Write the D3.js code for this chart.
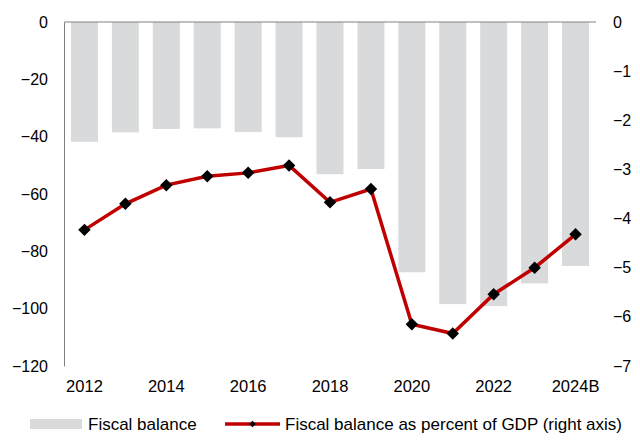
<!DOCTYPE html>
<html><head><meta charset="utf-8">
<script src="https://cdn.jsdelivr.net/npm/d3@7"></script>
<style>body{margin:0;background:#fff}svg{display:block}text{font-family:"Liberation Sans",Arial,sans-serif;fill:#000}</style>
</head><body><svg id="c" width="640" height="441"></svg>
<script>
const categories = ["2012","2013","2014","2015","2016","2017","2018","2019","2020","2021","2022","2023","2024B"];
const tickLabels = ["2012","2014","2016","2018","2020","2022","2024B"];
const fiscalBalance = [-41.8,-38.5,-37.3,-37.1,-38.4,-40.2,-53.1,-51.3,-87.3,-98.4,-99.1,-91.2,-85.1];
const pctGDP = [-4.23,-3.70,-3.32,-3.14,-3.07,-2.92,-3.67,-3.40,-6.15,-6.34,-5.54,-5.00,-4.32];
const leftTicks = [0,-20,-40,-60,-80,-100,-120];
const rightTicks = [0,-1,-2,-3,-4,-5,-6,-7];
const legendLabels = ["Fiscal balance","Fiscal balance as percent of GDP (right axis)"];

const svg = d3.select("#c");
const L=64, R=596, T=22, B=366;
const x = d3.scaleBand().domain(categories).range([L,R]).paddingInner(0.34).paddingOuter(0.17);
const yL = d3.scaleLinear().domain([-120,0]).range([B,T]);
const yR = d3.scaleLinear().domain([-7,0]).range([B,T]);

// bars
svg.append("g").selectAll("rect").data(fiscalBalance).join("rect")
  .attr("x",(d,i)=>x(categories[i])).attr("width",x.bandwidth())
  .attr("y",yL(0)).attr("height",d=>yL(d)-yL(0)).attr("fill","#d9dadb");

// axes
const axL = svg.append("g").attr("transform",`translate(${L},0)`)
  .call(d3.axisLeft(yL).tickValues(leftTicks).tickSize(0).tickPadding(16).tickFormat(d3.format("d")));
axL.select(".domain").attr("stroke","#808080");
const axR = svg.append("g").attr("transform",`translate(${R},0)`)
  .call(d3.axisRight(yR).tickValues(rightTicks).tickSize(0).tickPadding(17).tickFormat(d3.format("d")));
axR.select(".domain").remove();
svg.append("line").attr("x1",L).attr("x2",R).attr("y1",yL(0)).attr("y2",yL(0)).attr("stroke","#808080");
const axB = svg.append("g").attr("transform",`translate(0,${B})`)
  .call(d3.axisBottom(x).tickValues(tickLabels).tickSize(0).tickPadding(14));
axB.select(".domain").remove();
svg.selectAll(".tick text").attr("font-size",16).attr("font-family","Liberation Sans, Arial, sans-serif").attr("fill","#000");
axB.selectAll(".tick text").attr("font-size",16.5);

// line
const line = d3.line().x((d,i)=>x(categories[i])+x.bandwidth()/2).y(d=>yR(d));
svg.append("path").datum(pctGDP).attr("d",line).attr("fill","none").attr("stroke","#c00000").attr("stroke-width",3.5);
const sym = d3.symbol().type(d3.symbolSquare).size(78);
svg.append("g").selectAll("path").data(pctGDP).join("path")
  .attr("d",sym).attr("fill","#000")
  .attr("transform",(d,i)=>`translate(${x(categories[i])+x.bandwidth()/2},${yR(d)}) rotate(45)`);

// legend
const lg = svg.append("g");
const ly = 424;
lg.append("rect").attr("x",30).attr("y",ly-5).attr("width",52).attr("height",10).attr("fill","#d9dadb");
lg.append("text").attr("x",88).attr("y",ly+6).attr("font-size",17).text(legendLabels[0]);
lg.append("line").attr("x1",225).attr("x2",280).attr("y1",ly).attr("y2",ly).attr("stroke","#c00000").attr("stroke-width",3.5);
lg.append("path").attr("d",d3.symbol().type(d3.symbolSquare).size(22)()).attr("fill","#000").attr("transform",`translate(252.5,${ly}) rotate(45)`);
lg.append("text").attr("x",285).attr("y",ly+6).attr("font-size",17).text(legendLabels[1]);
</script></body></html>
